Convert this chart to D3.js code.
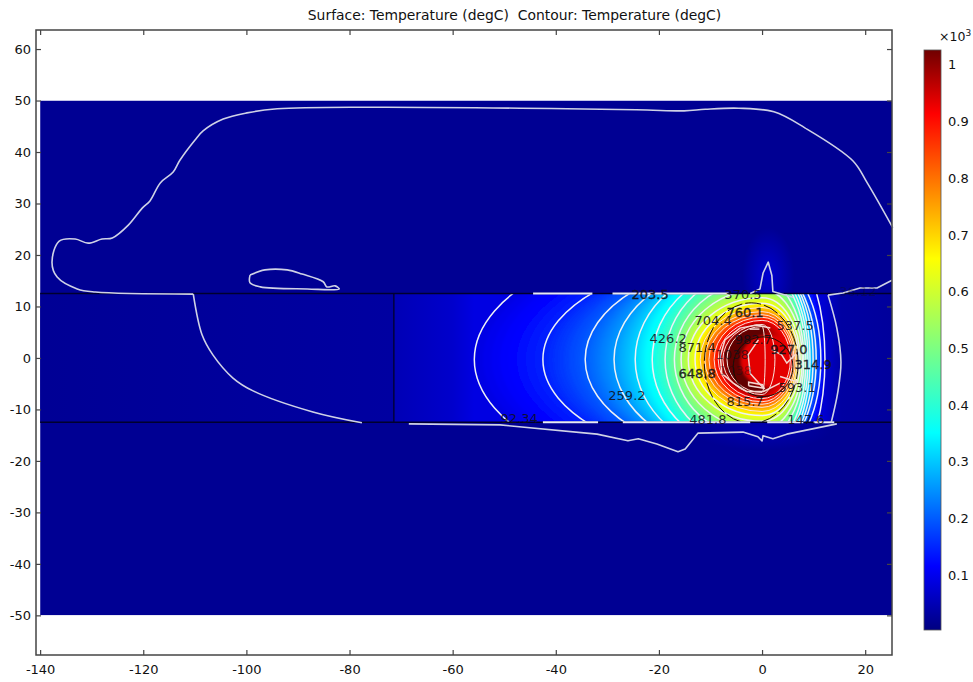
<!DOCTYPE html>
<html><head><meta charset="utf-8">
<script src="https://cdn.jsdelivr.net/npm/d3@7"></script>
<style>
html,body{margin:0;padding:0;background:#fff}
svg{display:block}
text{font-family:"DejaVu Sans",sans-serif}
</style></head><body>
<svg id="c" width="973" height="682"></svg>
<script>
const titleText = "Surface: Temperature (degC)  Contour: Temperature (degC)";
const xTicks = [-140,-120,-100,-80,-60,-40,-20,0,20];
const yTicks = [60,50,40,30,20,10,0,-10,-20,-30,-40,-50];
const barTicks = [0.1,0.2,0.3,0.4,0.5,0.6,0.7,0.8,0.9,1];

// contour levels and their extents along the mid-line (data units)
const levels = [92.34,147.6,203.5,259.2,314.9,370.5,426.2,481.8,537.5,593.1,648.8,704.4,760.1,815.7,871.4,927.0,982.7,1038];
const levelLeft = [-55.8,-42.5,-34.3,-28.7,-24.6,-21.3,-18.8,-17,-15.7,-14.3,-13,-12,-11.1,-10.3,-9.3,-8.5,-7.6,-6.8];
const levelRight = [12.2,11.4,10.5,9.9,9.3,8.9,8.5,8.1,7.8,7.4,7.1,6.8,6.5,6.2,5.9,5.5,2.5,0.6];
const levelHalfH = [25.6,20.4,19.4,19.4,19.4,18.4,17.5,15.5,13.6,12,10.9,10.1,9.3,8.7,8.2,7.6,6.8,6.4];

// temperature along the slab outside the hot ellipse
const slabX = [-140,-110,-71.4,-71.4,-60,-55.8,-30,0,12,15.3,25];
const slabT = [22,26,32,50,70,90,90,90,75,34,28];
const backgroundT = 20;
const slabTop = 12.5, slabBottom = -12.5, slabDivider = -71.4;

// outer isotherm
const outline = [[25.4,25.2],[20.4,34],[17.6,38.3],[8.3,44.7],[2.3,47.8],[-4.5,48.5],[-11,48.3],[-15.1,48],[-24.4,48.2],[-76,48.7],[-94,48.4],[-99.9,47.6],[-104.5,46.4],[-108.4,44.1],[-110,42.3],[-112.9,38.4],[-114.2,36.1],[-116.7,34],[-118.7,30.5],[-120.2,29.1],[-122.9,25.8],[-126,23.3],[-128,23.1],[-130.7,22.3],[-133.2,23.1],[-136.3,22.7],[-137.7,18.6],[-136.7,15.7],[-132.8,13.4],[-129.3,12.8],[-110.3,12.4]];
const outlineLower = [[-110.3,12.4],[-108.6,4.5],[-106.5,0.6],[-102.6,-3.9],[-98.7,-6.4],[-87.1,-10.5],[-77.6,-12.6]];
const lowerEdge = [[-68.5,-12.8],[-50.8,-13],[-32,-14.8],[-26,-16.1],[-24,-15.7],[-20.4,-16.7],[-16.3,-18.2],[-14.9,-17.7],[-12.4,-14.6],[-3.7,-14.4],[-0.8,-15.3],[0,-16.1],[0.2,-15.1],[2.1,-15.7],[4.8,-14.8],[14.5,-12.8]];
const rightEdge = [[13.4,-12.6],[14.7,-6.6],[15.3,-0.8],[14.5,5.8],[12.8,12.2]];
const rightTail = [[12.8,12.2],[15.7,12.6],[19,13.6],[22.3,13.6],[25.2,15.1]];
const spike = [[-2.3,12.5],[-0.4,13.4],[0.2,16.5],[1.2,18.6],[1.9,16],[2.1,12.9],[6,11.8]];
const island = [[-99.3,16.1],[-96.4,17.1],[-92.1,17.1],[-89.2,16.3],[-85.1,14.8],[-84.4,13.8],[-82.8,14],[-82,13.4],[-88.2,13.4],[-97.3,13.8],[-99.3,14.6],[-99.3,16.1]];
const topEdgeRuns = [[-44.4,-32.9],[-29,-6.5]];
const bottomEdgeRuns = [[-42.5,-31.8],[-27,-2.3],[1,8],[10,14]];

// hot core
const coreDisc = {x:1.1,y:-0.6,rx:5.2,ry:5,t:935};
const coreLines = [
 [[-7.8,-3],[-8.1,0.3],[-7.2,3.5],[-4.3,5.8],[-1,6.4],[1.6,5.8]],
 [[-7.8,-3],[-5.6,-4.9],[-3,-6.5],[0.3,-6.5],[3.5,-4.9]],
 [[-0.7,3.5],[-2.7,0.6],[-2.3,-3],[0.3,-5.9]],
 [[-2.4,5.6],[-0.5,5.6]],
 [[-2.6,-5.4],[0.4,-5.9],[0.1,-5.2],[-2.6,-4.7],[-2.6,-5.4]],
 [[1.9,1.6],[3.8,0.6],[4.8,-1],[6.7,0.9]],
 [[3.5,-3.6],[6.7,-4.6],[5.4,-5.9]]
];
const blackRings = [{x:-2.1,y:-1,rx:9.1,ry:11.7,dash:"16 3"},{x:0.2,y:-1.7,rx:5.8,ry:5.8,dash:null}];

// contour labels
const labelText = ["36.12","92.34","147.6","203.5","259.2","314.9","370.5","426.2","481.8","537.5","593.1","648.8","704.4","760.1","815.7","871.4","927.0","982.7","1038","1038"];
const labelX = [18.6,-47.1,8.5,-21.7,-26.2,9.9,-3.7,-18.2,-10.5,6.4,6.8,-12.6,-9.5,-3.3,-3.3,-12.6,5.2,-1.7,-5.8,-5.2];
const labelY = [13,-11.7,-12,12.4,-7.2,-1.2,12.4,3.9,-12,6.4,-5.8,-2.9,7.4,8.9,-8.5,2.1,1.6,3.7,0.8,-2.4];
const labelFade = [0.35,0.88,0.88,0.88,0.88,0.88,0.88,0.88,0.88,0.88,0.88,0.88,0.88,0.88,0.88,0.88,0.88,0.88,0.7,0.4];
const heavyLabels = ["203.5","314.9","648.8","760.1","927.0"];

// jet colour map
const jetPos = [0,0.11,0.34,0.375,0.64,0.89,1];
const jetCol = ["#000080","#0000ff","#00ffff","#1fffdf","#ffff00","#ff0000","#700000"];
const tMin = 3, tMax = 1026;

const x = d3.scaleLinear().domain([-140.8,25.2]).range([36,892]);
const y = d3.scaleLinear().domain([63.7,-57.7]).range([30,655]);
const jet = d3.scaleLinear().domain(jetPos).range(jetCol);
const tColor = t => jet((t-tMin)/(tMax-tMin));

const svg = d3.select("#c");
const defs = svg.append("defs");
defs.append("clipPath").attr("id","slabClip").append("rect")
  .attr("x",x(-140)).attr("y",y(slabTop)).attr("width",x(25.2)-x(-140)).attr("height",y(slabBottom)-y(slabTop));
defs.append("clipPath").attr("id","surfClip").append("rect")
  .attr("x",x(-140)).attr("y",y(50)).attr("width",x(25.2)-x(-140)).attr("height",y(-50)-y(50));
const soft = defs.append("filter").attr("id","soft").attr("x","-5%").attr("y","-5%").attr("width","110%").attr("height","110%");
soft.append("feGaussianBlur").attr("stdDeviation",1.6);
const softLine = defs.append("filter").attr("id","softLine").attr("x","-5%").attr("y","-5%").attr("width","110%").attr("height","110%");
softLine.append("feGaussianBlur").attr("stdDeviation",0.45);

const grad = defs.append("linearGradient").attr("id","slabGrad").attr("gradientUnits","userSpaceOnUse")
  .attr("x1",x(-140)).attr("x2",x(25)).attr("y1",0).attr("y2",0);
slabX.forEach((v,i)=>grad.append("stop").attr("offset",(v+140)/165).attr("stop-color",tColor(slabT[i])));
const glow = defs.append("radialGradient").attr("id","glow");
glow.append("stop").attr("offset",0).attr("stop-color","#0000d8").attr("stop-opacity",0.9);
glow.append("stop").attr("offset",1).attr("stop-color","#0000d8").attr("stop-opacity",0);
const barGrad = defs.append("linearGradient").attr("id","barGrad").attr("x1",0).attr("x2",0).attr("y1",1).attr("y2",0);
jetPos.forEach((p,i)=>barGrad.append("stop").attr("offset",p).attr("stop-color",jetCol[i]));

// surface
const surf = svg.append("g").attr("clip-path","url(#surfClip)");
surf.append("rect").attr("x",x(-140)).attr("y",y(50)).attr("width",x(25.2)-x(-140)).attr("height",y(-50)-y(50)).attr("fill",tColor(backgroundT));
surf.append("ellipse").attr("cx",x(1.2)).attr("cy",y(16)).attr("rx",26).attr("ry",48).attr("fill","url(#glow)");
surf.append("ellipse").attr("cx",x(0)).attr("cy",y(-14)).attr("rx",70).attr("ry",20).attr("fill","url(#glow)").attr("opacity",0.5);

// hot band fill
const ovalPath = (cy,l,r,h) => {
  const py=y(cy), top=y(cy+h), bot=y(cy-h), c=x(0), rl=c-x(l), rr=x(r)-c, ry=py-top;
  return `M${x(l)},${py}A${rl},${ry} 0 0 1 ${c},${top}A${rr},${ry} 0 0 1 ${x(r)},${py}A${rr},${ry} 0 0 1 ${c},${bot}A${rl},${ry} 0 0 1 ${x(l)},${py}Z`;
};
const slab = svg.append("g").attr("clip-path","url(#slabClip)");
slab.append("rect").attr("x",x(-140)).attr("y",y(slabTop)).attr("width",x(25.2)-x(-140)).attr("height",y(slabBottom)-y(slabTop)).attr("fill","url(#slabGrad)");
const fillG = slab.append("g").attr("filter","url(#soft)");
const sub = 8;
levels.forEach((lv,i)=>{
  const n = i<levels.length-1 ? sub : 1;
  for(let s=0;s<n;s++){
    const f=s/sub, j=Math.min(i+1,levels.length-1);
    const mix=(a)=>a[i]+(a[j]-a[i])*f;
    fillG.append("path").attr("d",ovalPath(-0.3,mix(levelLeft),mix(levelRight),mix(levelHalfH)))
      .attr("fill",tColor(lv+(levels[j]-lv)*f));
  }
});
fillG.append("ellipse").attr("cx",x(coreDisc.x)).attr("cy",y(coreDisc.y))
  .attr("rx",x(coreDisc.x+coreDisc.rx)-x(coreDisc.x)).attr("ry",y(coreDisc.y-coreDisc.ry)-y(coreDisc.y)).attr("fill",tColor(coreDisc.t));

// contours
const lineGen = d3.line().x(d=>x(d[0])).y(d=>y(d[1])).curve(d3.curveLinear);
const smoothGen = d3.line().x(d=>x(d[0])).y(d=>y(d[1])).curve(d3.curveCatmullRom.alpha(0.5));
const lineCol = "#cfd2e6";
const contourG = slab.append("g").attr("filter","url(#softLine)");
levels.forEach((lv,i)=>{
  contourG.append("path").attr("d",ovalPath(-0.3,levelLeft[i],levelRight[i],levelHalfH[i]))
    .attr("fill","none").attr("stroke", i<11?"#eef1f6":"#fbe3dc").attr("stroke-width", i<11?1.5:1);
});
blackRings.forEach(r=>{
  contourG.append("ellipse").attr("cx",x(r.x)).attr("cy",y(r.y))
    .attr("rx",x(r.x+r.rx)-x(r.x)).attr("ry",y(r.y-r.ry)-y(r.y))
    .attr("fill","none").attr("stroke","#1a1008").attr("stroke-width",1).attr("stroke-dasharray",r.dash);
});
coreLines.forEach(l=>contourG.append("path").attr("d",lineGen(l)).attr("fill","none").attr("stroke","#f6d8d2").attr("stroke-width",1.5));

// slab boundaries
const bound = svg.append("g").attr("filter","url(#softLine)");
[slabTop,slabBottom].forEach(v=>bound.append("line").attr("x1",x(-140)).attr("x2",x(25.2)).attr("y1",y(v)).attr("y2",y(v)).attr("stroke","#00002e").attr("stroke-width",1.5));
bound.append("line").attr("x1",x(slabDivider)).attr("x2",x(slabDivider)).attr("y1",y(slabTop)).attr("y2",y(slabBottom)).attr("stroke","#00002e").attr("stroke-width",1.3);
topEdgeRuns.forEach(r=>bound.append("line").attr("x1",x(r[0])).attr("x2",x(r[1])).attr("y1",y(slabTop)).attr("y2",y(slabTop)).attr("stroke","#e8eaf4").attr("stroke-width",2));
bottomEdgeRuns.forEach(r=>bound.append("line").attr("x1",x(r[0])).attr("x2",x(r[1])).attr("y1",y(slabBottom)).attr("y2",y(slabBottom)).attr("stroke","#e8eaf4").attr("stroke-width",2));
[outline,outlineLower,rightEdge,island].forEach(l=>
  bound.append("path").attr("d",smoothGen(l)).attr("fill","none").attr("stroke",lineCol).attr("stroke-width",1.6).attr("stroke-linejoin","round"));
[lowerEdge,rightTail,spike].forEach(l=>
  bound.append("path").attr("d",lineGen(l)).attr("fill","none").attr("stroke",lineCol).attr("stroke-width",1.6).attr("stroke-linejoin","round"));

// contour labels
svg.append("g").selectAll("text").data(labelText).join("text")
  .attr("x",(d,i)=>x(labelX[i])).attr("y",(d,i)=>y(labelY[i])).attr("dy","0.36em")
  .attr("text-anchor","middle").attr("font-size",13).attr("fill","#101018").attr("fill-opacity",(d,i)=>labelFade[i])
  .attr("stroke",d=>heavyLabels.includes(d)?"#101018":"none").attr("stroke-width",0.3)
  .text(d=>d);

// axes and frame
const fmt = d => String(d);
const axisStyle = g => { g.select(".domain").remove(); g.selectAll("line").attr("stroke","#444").attr("stroke-width",1.2);
  g.selectAll("text").attr("fill","#111").attr("font-size",13).attr("font-family",'"DejaVu Sans",sans-serif'); };
svg.append("g").attr("transform","translate(0,655)").call(d3.axisBottom(x).tickValues(xTicks).tickFormat(fmt).tickSize(-5).tickPadding(10)).call(axisStyle);
svg.append("g").attr("transform","translate(0,30)").call(d3.axisTop(x).tickValues(xTicks).tickFormat("").tickSize(-5)).call(axisStyle);
svg.append("g").attr("transform","translate(36,0)").call(d3.axisLeft(y).tickValues(yTicks).tickFormat(fmt).tickSize(-5).tickPadding(5)).call(axisStyle);
svg.append("g").attr("transform","translate(892,0)").call(d3.axisRight(y).tickValues(yTicks).tickFormat("").tickSize(-5)).call(axisStyle);
svg.append("rect").attr("x",36).attr("y",30).attr("width",856).attr("height",625).attr("fill","none").attr("stroke","#444").attr("stroke-width",1.5);

svg.append("text").attr("x",514.5).attr("y",20).attr("text-anchor","middle").attr("font-size",13.9).attr("fill","#111")
  .attr("xml:space","preserve").style("white-space","pre").text(titleText);

// colour bar
const bar = d3.scaleLinear().domain([tMin/1000,tMax/1000]).range([630,50]);
svg.append("rect").attr("x",924).attr("y",50).attr("width",17).attr("height",580).attr("fill","url(#barGrad)").attr("stroke","#555").attr("stroke-width",0.8);
svg.append("g").attr("transform","translate(941,0)").call(d3.axisRight(bar).tickValues(barTicks).tickFormat(d=>String(d)).tickSize(0).tickPadding(7)).call(axisStyle);
const exp = svg.append("text").attr("x",939).attr("y",41).attr("font-size",12.5).attr("fill","#111");
exp.append("tspan").text("×10");
exp.append("tspan").attr("dy",-5).attr("font-size",9).text("3");
</script></body></html>
